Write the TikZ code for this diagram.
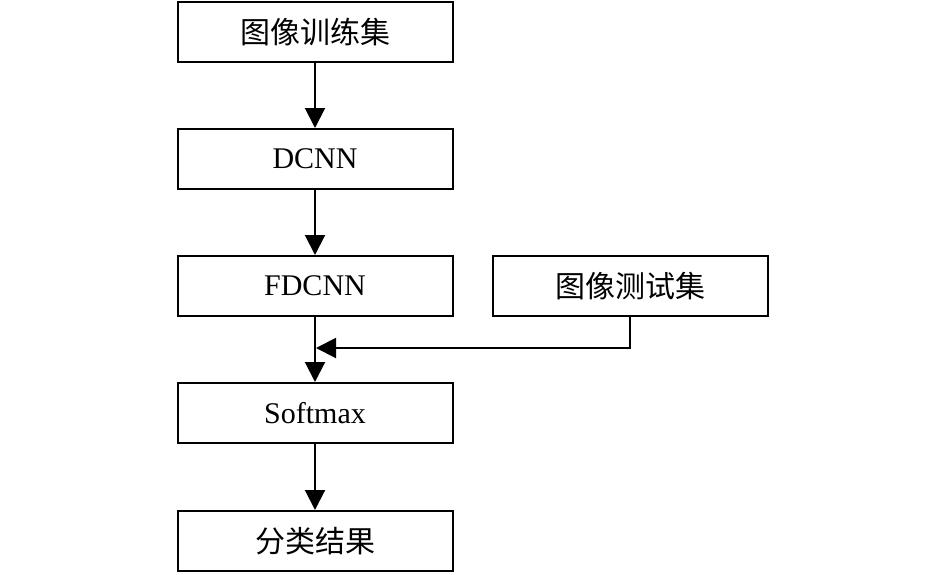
\documentclass[tikz,border=0pt]{standalone}
\usepackage{fontspec}
\setmainfont{Liberation Serif}
\newfontfamily\cjk{Noto Sans CJK SC}
\usetikzlibrary{arrows.meta}
\begin{document}
\begin{tikzpicture}[x=1pt,y=-1pt,
  box/.style={draw, line width=2pt, minimum width=275pt, minimum height=60pt, inner sep=0pt, font=\fontsize{30}{30}\selectfont},
  arr/.style={line width=2pt, -{Triangle[length=20pt,width=20pt]}}]
\useasboundingbox (0,0) rectangle (945,574);
\node[box] (train) at (315,32) {\cjk 图像训练集};
\node[box] (dcnn) at (315,159) {DCNN};
\node[box] (fdcnn) at (315,286) {FDCNN};
\node[box] (test) at (630,286) {\cjk 图像测试集};
\node[box] (soft) at (315,413) {Softmax};
\node[box] (res) at (315,541) {\cjk 分类结果};
\coordinate (corner) at (630,348);
\coordinate (tip) at (316,348);
\draw[arr] (train) -- (dcnn);
\draw[arr] (dcnn) -- (fdcnn);
\draw[arr] (fdcnn) -- (soft);
\draw[arr] (soft) -- (res);
\draw[arr] (test.south) -- (corner) -- (tip);
\end{tikzpicture}
\end{document}
